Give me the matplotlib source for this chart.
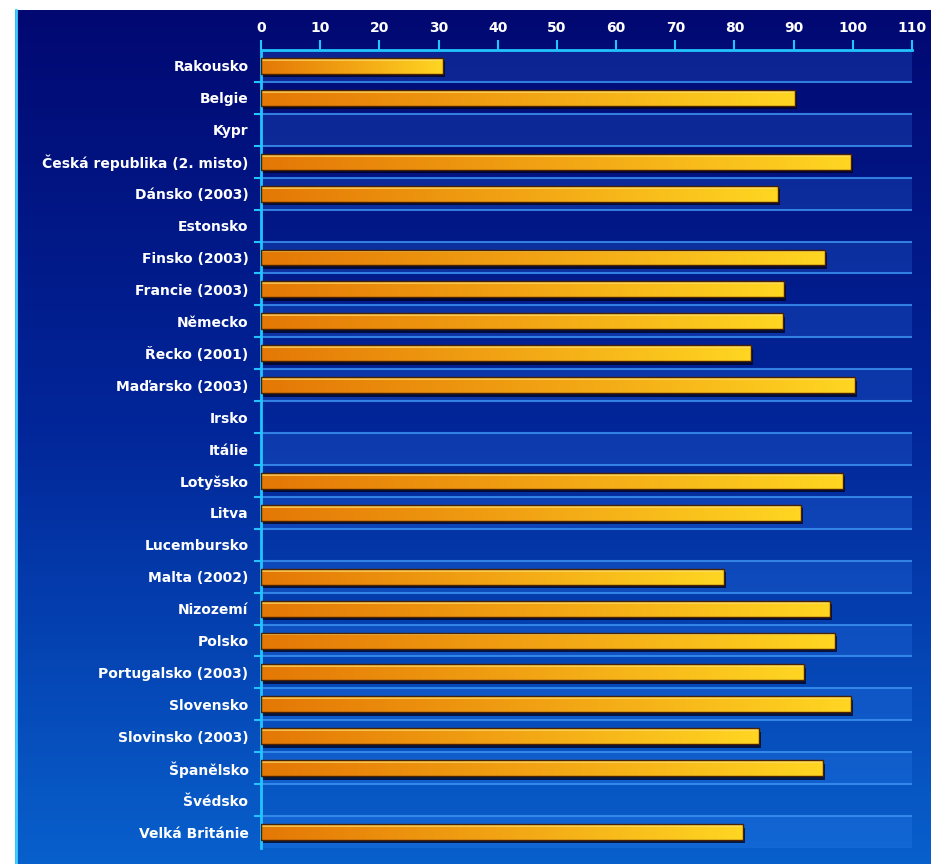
import numpy as np
import matplotlib
matplotlib.use("Agg")
import matplotlib.pyplot as plt
import matplotlib.patheffects as pe
from matplotlib.colors import LinearSegmentedColormap
from matplotlib.lines import Line2D

# podíl (%) podle zemí, 0 = bez údaje
countries = ['Rakousko', 'Belgie', 'Kypr', 'Česká republika (2. misto)',
             'Dánsko (2003)', 'Estonsko', 'Finsko (2003)', 'Francie (2003)',
             'Německo', 'Řecko (2001)', 'Maďarsko (2003)', 'Irsko', 'Itálie',
             'Lotyšsko', 'Litva', 'Lucembursko', 'Malta (2002)', 'Nizozemí',
             'Polsko', 'Portugalsko (2003)', 'Slovensko', 'Slovinsko (2003)',
             'Španělsko', 'Švédsko', 'Velká Británie']
values = [30.8, 90.3, 0, 99.7, 87.3, 0, 95.3, 88.4, 88.2, 82.8, 100.4, 0, 0,
          98.3, 91.2, 0, 78.2, 96.1, 97.0, 91.8, 99.7, 84.1, 95.0, 0, 81.4]
xticks = list(range(0, 111, 10))

W, H = 931, 864
fig = plt.figure(figsize=(W / 100, H / 100), dpi=100, facecolor='white')

# modré pozadí s přechodem
bg = fig.add_axes([15 / W, 0, 1 - 15 / W, 1 - 10 / H])
bg_cmap = LinearSegmentedColormap.from_list('bg', ['#010872', '#02279a', '#0860cc'])
bg.imshow(np.linspace(0, 1, 256).reshape(-1, 1), aspect='auto', cmap=bg_cmap,
          extent=[0, 1, 0, 1], origin='upper')
bg.set_axis_off()
fig.add_artist(Line2D([16 / W, 16 / W], [0, 1 - 10 / H], color='#3fd0ff', lw=2))

ax = fig.add_axes([261 / W, 1 - 848 / H, (912 - 261) / W, (848 - 50) / H])
ax.patch.set_alpha(0)

n = len(countries)
pos = np.arange(n)
for i in pos[::2]:
    ax.axhspan(i - 0.5, i + 0.5, color='#3a8cff', alpha=0.2, lw=0, zorder=0)
for i in pos[:-1]:
    ax.axhline(i + 0.5, color='#3a90f0', lw=1.5, alpha=0.85, zorder=1)

# stín pod pruhy
shadow = ax.barh(pos, values, height=0.5, color='none', lw=0, zorder=1.5)
for s in shadow:
    s.set_path_effects([pe.SimplePatchShadow(offset=(1.5, -2.5), shadow_rgbFace='#000018',
                                             alpha=0.75)])

bar_cmap = LinearSegmentedColormap.from_list('bar', ['#e47806', '#f2a414', '#ffd622'])
bars = ax.barh(pos, values, height=0.5, color='none', edgecolor='#4a2200',
               lw=1.0, zorder=4)
grad = np.linspace(0, 1, 256).reshape(1, -1)
for b, v in zip(bars, values):
    if v <= 0:
        b.set_visible(False)
        continue
    im = ax.imshow(grad, aspect='auto', cmap=bar_cmap, zorder=3,
                   extent=[b.get_x(), b.get_x() + b.get_width(),
                           b.get_y() + b.get_height(), b.get_y()])
    im.set_clip_path(b)
    # světlý horní okraj
    ax.plot([b.get_x() + 0.4, b.get_x() + b.get_width() - 0.4],
            [b.get_y() + 0.06] * 2, color='#ffe070', lw=1.2, alpha=0.8, zorder=3.5)

ax.set_xlim(0, 110)
ax.set_ylim(n - 0.5, -0.5)
ax.xaxis.tick_top()
ax.set_xticks(xticks)
ax.set_yticks(pos)
ax.set_yticklabels(countries)
ax.set_yticks(pos[:-1] + 0.5, minor=True)

for s in ['right', 'bottom']:
    ax.spines[s].set_visible(False)
for s in ['top', 'left']:
    ax.spines[s].set_color('#22c4ff')
    ax.spines[s].set_linewidth(2)

ax.tick_params(axis='x', colors='#22c4ff', length=7, width=1.5, pad=4,
               labelcolor='white', labelsize=10)
ax.tick_params(axis='y', which='major', length=0, pad=9, labelcolor='white', labelsize=10)
ax.tick_params(axis='y', which='minor', colors='#22c4ff', length=5, width=1.5)
for lab in ax.get_xticklabels() + ax.get_yticklabels():
    lab.set_fontweight('bold')

fig.savefig('out.png', dpi=100, facecolor='white')
